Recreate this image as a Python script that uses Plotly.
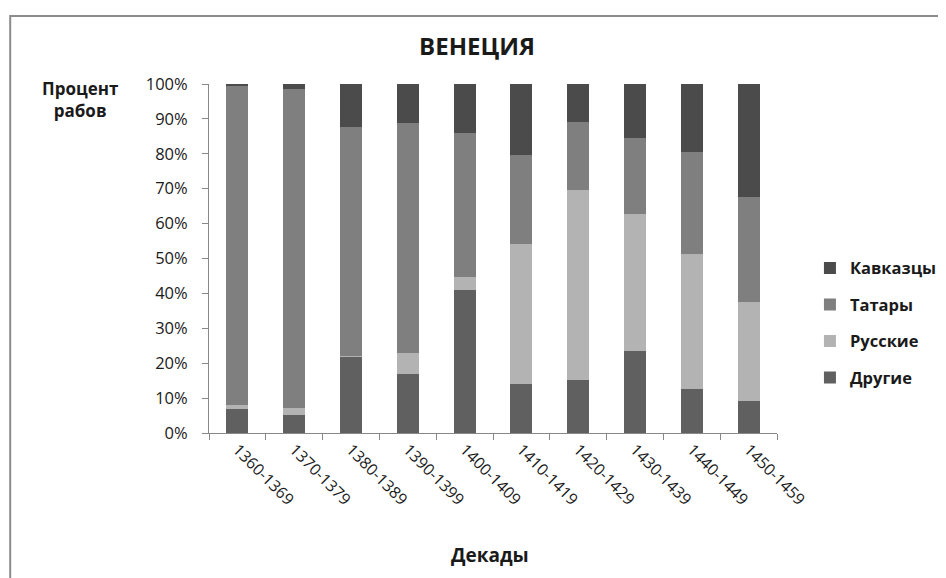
"""Venice slave origins by decade, stacked percent bars."""
import plotly.graph_objects as go

decades = ["1360-1369", "1370-1379", "1380-1389", "1390-1399", "1400-1409",
           "1410-1419", "1420-1429", "1430-1439", "1440-1449", "1450-1459"]

# percent of slaves per group, bottom to top
drugie = [7.0, 5.3, 21.8, 17.0, 40.9, 14.0, 15.3, 23.4, 12.7, 9.2]
russkie = [1.1, 1.8, 0.4, 5.9, 3.7, 40.2, 54.2, 39.3, 38.6, 28.2]
tatary = [91.4, 91.4, 65.4, 66.0, 41.4, 25.6, 19.5, 21.9, 29.3, 30.2]
kavkaztsy = [0.5, 1.5, 12.4, 11.1, 14.0, 20.2, 11.0, 15.4, 19.4, 32.4]

series = [
    ("Другие", drugie, "#606060"),
    ("Русские", russkie, "#b3b3b3"),
    ("Татары", tatary, "#7f7f7f"),
    ("Кавказцы", kavkaztsy, "#4b4b4b"),
]

font = "Open Sans"

fig = go.Figure()
for i, (name, vals, color) in enumerate(series):
    fig.add_trace(go.Bar(
        x=decades,
        y=vals,
        name=name,
        legendgroup=name,
        legendrank=1000 - i,  # top segment listed first
        marker=dict(color=color, line=dict(width=0)),
    ))

# page body adds an 8px offset, so the figure is a bit smaller than the window
fig.update_layout(
    barmode="stack",
    bargap=0.61,
    width=938,
    height=570,
    margin=dict(l=201, r=169, t=76, b=145, autoexpand=False),
    plot_bgcolor="white",
    paper_bgcolor="white",
    font=dict(family=font, size=16, color="#1a1a1a"),
    showlegend=True,
    legend=dict(
        traceorder="grouped",
        x=1.058, y=0.522, xanchor="left", yanchor="top",
        font=dict(family=font, size=16.5, color="#1a1a1a", weight="bold"),
        tracegroupgap=12,
        itemwidth=30,
    ),
    title=dict(
        text="<b>ВЕНЕЦИЯ</b>",
        x=0.5, xanchor="center", y=0.932, yanchor="middle",
        font=dict(family=font, size=24, color="#1a1a1a"),
    ),
)

fig.update_xaxes(
    type="category",
    tickangle=45,
    tickson="boundaries",
    ticks="outside",
    ticklen=6,
    tickcolor="#888888",
    showline=True,
    linecolor="#888888",
    linewidth=1,
    showgrid=False,
    automargin=False,
    tickfont=dict(family=font, size=16),
)
fig.update_yaxes(
    range=[0, 100],
    tickvals=list(range(0, 101, 10)),
    ticktext=[f"{v}%" for v in range(0, 101, 10)],
    ticks="outside",
    ticklen=6,
    tickcolor="#888888",
    ticklabelstandoff=11,
    showline=True,
    linecolor="#888888",
    linewidth=1,
    showgrid=False,
    zeroline=False,
    automargin=False,
    tickfont=dict(family=font, size=16.5),
)

# axis titles placed like the original
fig.add_annotation(
    text="<b>Процент<br>рабов</b>", xref="paper", yref="paper",
    x=-0.227, y=1.026, xanchor="center", yanchor="top", showarrow=False,
    align="center", font=dict(family=font, size=17, color="#1a1a1a"),
)
fig.add_annotation(
    text="<b>Декады</b>", xref="paper", yref="paper",
    x=0.495, y=-0.35, xanchor="center", yanchor="middle", showarrow=False,
    font=dict(family=font, size=19, color="#1a1a1a"),
)

# outer chart frame
fig.add_shape(
    type="rect", xref="paper", yref="paper",
    x0=-0.35, y0=-0.6, x1=1.5, y1=1.195,
    line=dict(color="#8c8c8c", width=2), layer="below",
)

fig.write_html("out.html")
